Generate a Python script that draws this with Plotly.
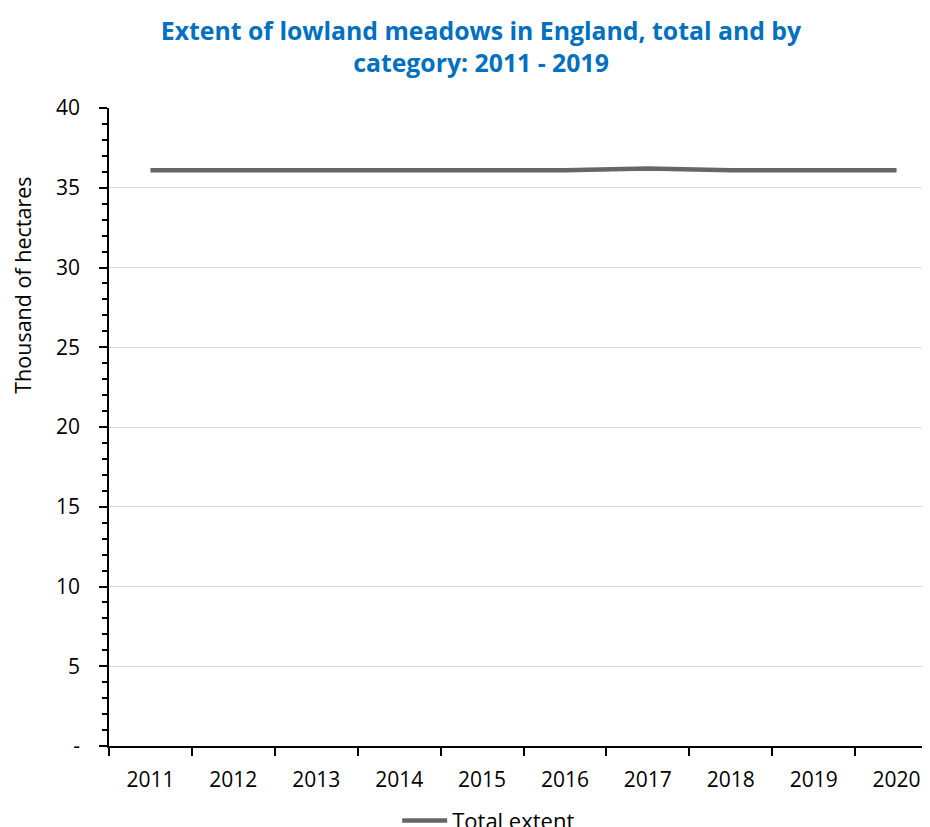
import plotly.graph_objects as go

years = ["2011", "2012", "2013", "2014", "2015", "2016", "2017", "2018", "2019", "2020"]
total_extent = [36.1, 36.1, 36.1, 36.1, 36.1, 36.1, 36.2, 36.1, 36.1, 36.1]
y_tickvals = [0, 5, 10, 15, 20, 25, 30, 35, 40]
y_ticktext = ["-", "5", "10", "15", "20", "25", "30", "35", "40"]

font_family = "Open Sans, Liberation Sans, sans-serif"

fig = go.Figure()
fig.add_trace(go.Scatter(
    x=years, y=total_extent, mode="lines", name="Total extent",
    line=dict(color="#666666", width=4.5),
))

fig.update_layout(
    width=930, height=827,
    paper_bgcolor="white", plot_bgcolor="white",
    margin=dict(l=101, r=0, t=100, b=89, autoexpand=False),
    title=dict(
        text="<b>Extent of lowland meadows in England, total and by<br>category: 2011 - 2019</b>",
        x=0.5086, xanchor="center", y=0.961, yanchor="top",
        font=dict(family=font_family, size=24.8, color="#0070C0"),
    ),
    font=dict(family=font_family, size=20, color="black"),
    showlegend=True,
    legend=dict(orientation="h", x=0.458, xanchor="center", y=-0.117, yanchor="middle",
                font=dict(size=22), itemwidth=45, bgcolor="rgba(0,0,0,0)"),
    annotations=[dict(
        text="Thousand of hectares", textangle=-90, xref="paper", yref="paper",
        x=-0.104, y=0.7226, xanchor="center", yanchor="middle", showarrow=False,
        font=dict(size=21.5),
    )],
)
fig.update_xaxes(
    type="category", range=[-0.5, 9.5], tickson="boundaries",
    ticks="outside", ticklen=8, tickcolor="black", tickwidth=1.5,
    showline=True, linecolor="black", linewidth=1.5, automargin=False,
    showgrid=False, tickfont=dict(size=21), ticklabelstandoff=14,
)
fig.update_yaxes(
    range=[0, 40], tickvals=y_tickvals, ticktext=y_ticktext,
    ticks="outside", ticklen=8, tickcolor="black", tickwidth=1.5,
    showline=True, linecolor="black", linewidth=1.5, automargin=False,
    showgrid=True, gridcolor="#D9D9D9", gridwidth=1.2,
    minor=dict(dtick=1, tick0=0, ticks="outside", ticklen=5, tickcolor="black", tickwidth=1.5, showgrid=False),
    tickfont=dict(size=21), ticklabelstandoff=15,
    zeroline=False,
)

fig.write_html("out.html")
